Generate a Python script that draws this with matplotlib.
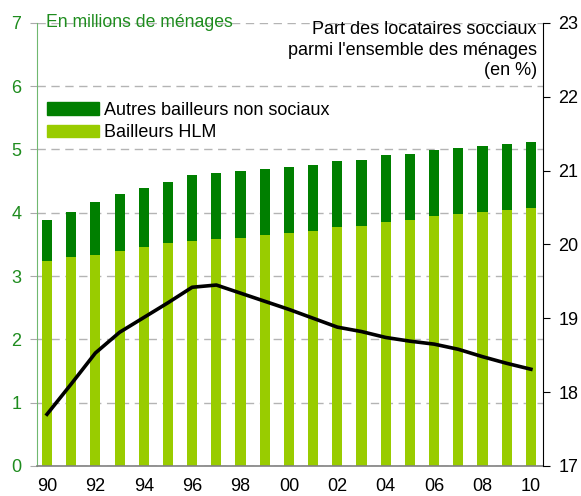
import matplotlib
matplotlib.use('Agg')
import matplotlib.pyplot as plt
from matplotlib.patches import Patch
import numpy as np

plt.rcParams['font.family'] = ['Liberation Sans', 'DejaVu Sans']

years = list(range(1990, 2011))
# millions de ménages
total = [3.89, 4.01, 4.17, 4.30, 4.39, 4.49, 4.60, 4.63, 4.66, 4.69, 4.72,
         4.75, 4.82, 4.83, 4.91, 4.93, 4.99, 5.02, 5.06, 5.09, 5.12]
hlm = [3.24, 3.30, 3.33, 3.40, 3.46, 3.52, 3.55, 3.59, 3.60, 3.65, 3.68,
       3.71, 3.78, 3.79, 3.85, 3.89, 3.95, 3.98, 4.01, 4.04, 4.08]
# part des locataires sociaux (en %)
part = [17.70, 18.11, 18.53, 18.81, 19.01, 19.21, 19.42, 19.45, 19.34, 19.23, 19.12,
        19.00, 18.88, 18.82, 18.74, 18.69, 18.65, 18.58, 18.48, 18.39, 18.31]
xlabels = ['90', '92', '94', '96', '98', '00', '02', '04', '06', '08', '10']

dark = '#007f00'
light = '#99cc00'
green_txt = '#1e8c1e'

autres = np.array(total) - np.array(hlm)

fig = plt.figure(figsize=(5.81, 4.96), dpi=100)
ax = fig.add_axes([0.063, 0.0605, 0.872, 0.8935])
ax.bar(years, hlm, width=0.42, color=light, zorder=2)
ax.bar(years, autres, bottom=hlm, width=0.42, color=dark, zorder=2)

ax.set_xlim(1989.57, 2010.51)
ax.set_ylim(0, 7)
ax.set_yticks(range(0, 8))
ax.set_xticks(years[::2])
ax.set_xticklabels(xlabels)
ax.tick_params(axis='x', length=0, labelsize=13, pad=9)
ax.tick_params(axis='y', length=5, color='#aaaaaa', labelcolor=green_txt, labelsize=13, pad=6)
ax.yaxis.grid(True, color='#b4b4b4', linestyle=(0, (6, 4)), linewidth=1)
ax.set_axisbelow(True)
ax.spines['top'].set_visible(False)
ax.spines['right'].set_visible(False)
ax.spines['left'].set_color('#70b870')
ax.spines['bottom'].set_color('#808080')
ax.spines['bottom'].set_linewidth(1.2)

ax2 = ax.twinx()
ax2.plot(years, part, color='black', linewidth=2.6, zorder=3)
ax2.set_ylim(17, 23)
ax2.set_yticks(range(17, 24))
ax2.tick_params(axis='y', length=5, labelsize=13, pad=6)
ax2.spines['top'].set_visible(False)
ax2.spines['left'].set_visible(False)
ax2.spines['bottom'].set_visible(False)

ax.text(1989.97, 7, 'En millions de ménages', color=green_txt, fontsize=12.7,
        va='center', ha='left')
ax.text(2010.25, 7.035, "Part des locataires socciaux\nparmi l'ensemble des ménages\n(en %)",
        fontsize=13, va='top', ha='right', ma='right', linespacing=1.3)

handles = [Patch(color=dark, label='Autres bailleurs non sociaux'),
           Patch(color=light, label='Bailleurs HLM')]
ax.legend(handles=handles, loc='upper left', bbox_to_anchor=(-0.005, 0.85),
          frameon=False, fontsize=13, handlelength=2.9, handleheight=0.7,
          handletextpad=0.3, labelspacing=0.3, borderaxespad=0.3)

fig.savefig('out.png', dpi=100)
